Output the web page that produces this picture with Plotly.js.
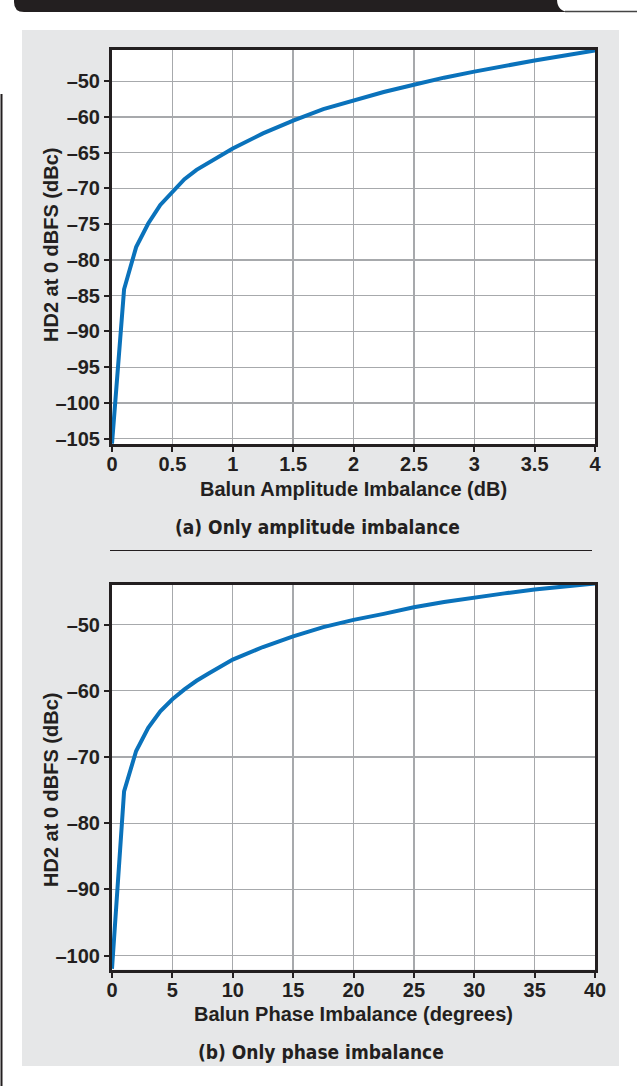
<!DOCTYPE html>
<html>
<head>
<meta charset="utf-8">
<script src="https://cdn.plot.ly/plotly-3.0.1.min.js"></script>
<style>html,body{margin:0;padding:0;background:#fff;}#chart{width:637px;height:1086px;}</style>
</head>
<body>
<div id="chart"></div>
<script>
// ---- data ----
// (a) amplitude imbalance; y values on the plotted grid scale
const ampX   = [0, 0.1, 0.2, 0.3, 0.4, 0.5, 0.6, 0.7, 0.8, 1.0, 1.25, 1.5, 1.75, 2.0, 2.25, 2.5, 2.75, 3.0, 3.25, 3.5, 3.75, 4.0];
const ampHD2 = [-105.7, -84.1, -78.2, -74.9, -72.3, -70.4, -68.7, -67.4, -66.4, -64.4, -62.3, -60.5, -58.9, -57.7, -56.5, -55.5, -54.5, -53.65, -52.85, -52.1, -51.4, -50.7];
const ampTickVals = [-55, -60, -65, -70, -75, -80, -85, -90, -95, -100, -105];
const ampTickText = ['\u201350', '\u201360', '\u201365', '\u201370', '\u201375', '\u201380', '\u201385', '\u201390', '\u201395', '\u2013100', '\u2013105'];

// (b) phase imbalance
const phX   = [0, 1, 2, 3, 4, 5, 6, 7, 8, 9, 10, 12.5, 15, 17.5, 20, 22.5, 25, 27.5, 30, 32.5, 35, 37.5, 40];
const phHD2 = [-102, -75.2, -69.1, -65.6, -63.1, -61.3, -59.8, -58.5, -57.4, -56.3, -55.3, -53.4, -51.8, -50.4, -49.3, -48.4, -47.4, -46.6, -45.9, -45.3, -44.7, -44.2, -43.8];
const phTickVals = [-50, -60, -70, -80, -90, -100];
const phTickText = ['\u201350', '\u201360', '\u201370', '\u201380', '\u201390', '\u2013100'];

const texts = {
  yTitle: 'HD2 at 0 dBFS (dBc)',
  xTitleA: 'Balun Amplitude Imbalance (dB)',
  xTitleB: 'Balun Phase Imbalance (degrees)',
  capA: '(a) Only amplitude imbalance',
  capB: '(b) Only phase imbalance'
};

// ---- layout helpers (pixel -> paper) ----
const W = 637, H = 1086;
const fx = p => p / W;
const fy = p => 1 - p / H;
const INK = '#231f20';
const FONT = 'Liberation Sans, Arial, Helvetica, sans-serif';
const NARROW = 'Liberation Sans Narrow, Arial Narrow, DejaVu Sans Condensed, sans-serif';

function axisBase(extra) {
  return Object.assign({
    showline: true, mirror: true, linecolor: INK, linewidth: 3,
    ticks: 'outside', ticklen: 5, tickwidth: 2, tickcolor: INK,
    showgrid: true, gridcolor: '#a7a9ac', gridwidth: 1.3,
    zeroline: false, fixedrange: true,
    tickfont: {family: FONT, size: 20, color: INK, weight: 'bold'}
  }, extra);
}

const traces = [
  {x: ampX, y: ampHD2, xaxis: 'x', yaxis: 'y', type: 'scatter', mode: 'lines',
   line: {color: '#0a72bb', width: 4}, hoverinfo: 'skip'},
  {x: phX, y: phHD2, xaxis: 'x2', yaxis: 'y2', type: 'scatter', mode: 'lines',
   line: {color: '#0a72bb', width: 4}, hoverinfo: 'skip'}
];

const xDom = [fx(112), fx(595)];
const layout = {
  width: W, height: H,
  margin: {l: 0, r: 0, t: 0, b: 0},
  paper_bgcolor: '#e6e7e8',
  plot_bgcolor: '#ffffff',
  showlegend: false,
  xaxis: axisBase({domain: xDom, range: [0, 4], dtick: 0.5, tick0: 0, anchor: 'y', ticklabelstandoff: -5}),
  yaxis: axisBase({domain: [fy(444), fy(50)], range: [-105.74, -50.63], tickvals: ampTickVals, ticktext: ampTickText, anchor: 'x'}),
  xaxis2: axisBase({domain: xDom, range: [0, 40], dtick: 5, tick0: 0, anchor: 'y2', ticklabelstandoff: -5}),
  yaxis2: axisBase({domain: [fy(969.5), fy(584.5)], range: [-102.1, -43.96], tickvals: phTickVals, ticktext: phTickText, anchor: 'x2'}),
  shapes: [
    // white page outside the grey panel
    {type: 'rect', xref: 'paper', yref: 'paper', x0: 0, x1: 1, y0: fy(30), y1: 1, fillcolor: '#fff', line: {width: 0}, layer: 'below'},
    {type: 'rect', xref: 'paper', yref: 'paper', x0: 0, x1: 1, y0: 0, y1: fy(1066), fillcolor: '#fff', line: {width: 0}, layer: 'below'},
    {type: 'rect', xref: 'paper', yref: 'paper', x0: 0, x1: fx(22), y0: 0, y1: 1, fillcolor: '#fff', line: {width: 0}, layer: 'below'},
    {type: 'rect', xref: 'paper', yref: 'paper', x0: fx(619), x1: 1, y0: 0, y1: 1, fillcolor: '#fff', line: {width: 0}, layer: 'below'},
    // header bar
    {type: 'path', xref: 'paper', yref: 'paper',
     path: `M ${fx(14)} ${fy(-1)} L ${fx(557)} ${fy(-1)} Q ${fx(557)} ${fy(12)} ${fx(570)} ${fy(12)} L ${fx(24)} ${fy(12)} Q ${fx(14)} ${fy(12)} ${fx(14)} ${fy(2)} Z`,
     fillcolor: INK, line: {width: 0}},
    {type: 'line', xref: 'paper', yref: 'paper', x0: fx(565), x1: 1, y0: fy(11.5), y1: fy(11.5), line: {color: '#444', width: 1.5}},
    // left rule
    {type: 'line', xref: 'paper', yref: 'paper', x0: fx(1.5), x1: fx(1.5), y0: fy(94), y1: 0, line: {color: INK, width: 2}},
    // separator between the panels
    {type: 'line', xref: 'paper', yref: 'paper', x0: fx(110), x1: fx(592), y0: fy(550.5), y1: fy(550.5), line: {color: INK, width: 1}}
  ],
  annotations: [
    {text: texts.yTitle, xref: 'paper', yref: 'paper', x: fx(51), y: fy(245), textangle: -90, showarrow: false, xanchor: 'center', yanchor: 'middle',
     font: {family: FONT, size: 20, color: INK, weight: 'bold'}},
    {text: texts.yTitle, xref: 'paper', yref: 'paper', x: fx(51), y: fy(790), textangle: -90, showarrow: false, xanchor: 'center', yanchor: 'middle',
     font: {family: FONT, size: 20, color: INK, weight: 'bold'}},
    {text: texts.xTitleA, xref: 'paper', yref: 'paper', x: fx(353.5), y: fy(489), showarrow: false, xanchor: 'center', yanchor: 'middle',
     font: {family: FONT, size: 20, color: INK, weight: 'bold'}},
    {text: texts.xTitleB, xref: 'paper', yref: 'paper', x: fx(353.5), y: fy(1014), showarrow: false, xanchor: 'center', yanchor: 'middle',
     font: {family: FONT, size: 20, color: INK, weight: 'bold'}},
    {text: texts.capA, xref: 'paper', yref: 'paper', x: fx(317), y: fy(527), showarrow: false, xanchor: 'center', yanchor: 'middle',
     font: {family: NARROW, size: 19, color: INK, weight: 'bold'}},
    {text: texts.capB, xref: 'paper', yref: 'paper', x: fx(321), y: fy(1052), showarrow: false, xanchor: 'center', yanchor: 'middle',
     font: {family: NARROW, size: 19, color: INK, weight: 'bold'}}
  ]
};

Plotly.newPlot('chart', traces, layout, {displayModeBar: false, staticPlot: true});
</script>
</body>
</html>
